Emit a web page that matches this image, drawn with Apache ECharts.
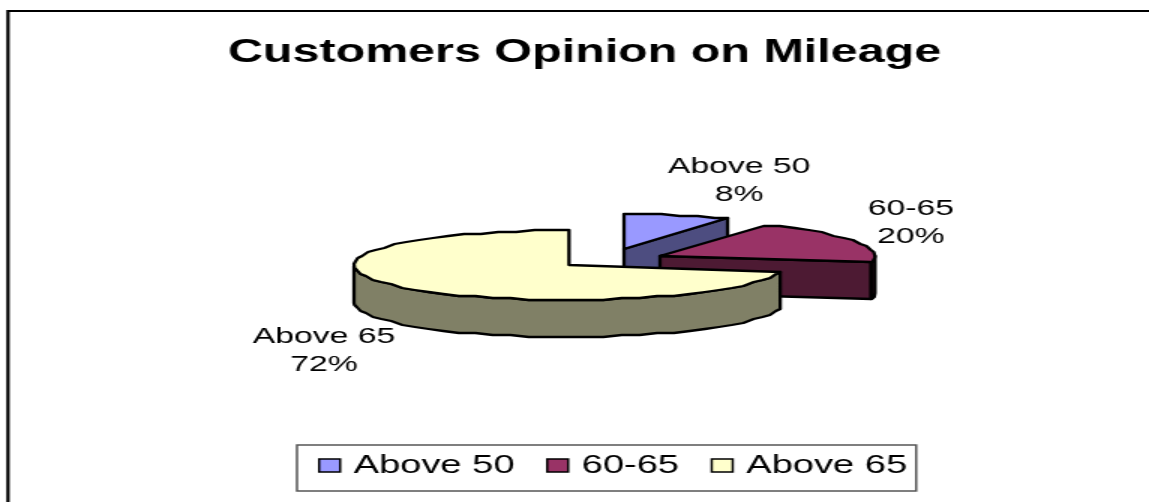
<!DOCTYPE html>
<html>
<head>
<meta charset="utf-8">
<style>
  html, body { margin: 0; padding: 0; background: #fff; overflow: hidden; }
  /* The chart is laid out narrow and widened 1.5x, giving the broad lettering of the sheet */
  #chart { width: 766px; height: 502px; transform: scaleX(1.5); transform-origin: 0 0; }
</style>
<script src="https://cdn.jsdelivr.net/npm/echarts@6/dist/echarts.min.js"></script>
</head>
<body>
<div id="chart"></div>
<script>
const chartTitle = 'Customers Opinion on Mileage';
const categories = ['Above 50', '60-65', 'Above 65'];
const shares = [8, 20, 72];
const topColors = ['#9999FF', '#993366', '#FFFFCC'];
const sideColors = ['#4D4D80', '#4D1A33', '#808066'];

const WIDEN = 1.5;
const FONT = '"Liberation Sans", Arial, sans-serif';

// Disc geometry, in widened page pixels
const RADIUS_X = 215;
const RADIUS_Y = 35;
const DEPTH = 37;
const sliceCentres = [[624, 249], [660, 256], [569, 265]];
const labelCentres = [[739, 181], [911, 223], [324, 351]];

const total = shares.reduce((a, b) => a + b, 0);
const startAngle = i => shares.slice(0, i).reduce((a, b) => a + b, 0) / total * 360;

// Rim heights snap to a coarse grid, which gives the edge its stepped, low-resolution line
function rimPoint(centre, deg, drop) {
  const t = deg * Math.PI / 180;
  const y = centre[1] - RADIUS_Y * Math.cos(t);
  return [
    (centre[0] + RADIUS_X * Math.sin(t)) / WIDEN,
    Math.round(y / 2) * 2 + drop
  ];
}

function rimArc(centre, from, to, drop) {
  const pts = [];
  const step = 5;
  for (let a = from; a < to - 0.01; a += step) pts.push(rimPoint(centre, a, drop));
  pts.push(rimPoint(centre, to, drop));
  return pts;
}

const outline = { stroke: '#000', lineWidth: 2.3, lineJoin: 'round' };

function polygon(points, fill) {
  return { type: 'polygon', shape: { points }, style: Object.assign({ fill }, outline) };
}

function makeRenderItem(i) {
  return function () {
    const centre = sliceCentres[i];
    const a0 = startAngle(i);
    const a1 = a0 + shares[i] / total * 360;
    const apex = [centre[0] / WIDEN, centre[1]];
    const children = [];

    // Cut faces that turn toward the viewer
    const facing = (deg) => Math.cos(deg * Math.PI / 180) < -1e-6;
    [[a0, a0 - 90], [a1, a1 + 90]].forEach(([edge, normal]) => {
      if (!facing(normal)) return;
      const r0 = rimPoint(centre, edge, 0);
      children.push(polygon([apex, r0, [r0[0], r0[1] + DEPTH], [apex[0], apex[1] + DEPTH]], sideColors[i]));
    });

    // Outer wall, only along the near half of the rim
    const w0 = Math.max(a0, 90);
    const w1 = Math.min(a1, 270);
    if (w1 > w0) {
      const upper = rimArc(centre, w0, w1, 0);
      const lower = rimArc(centre, w0, w1, DEPTH).reverse();
      children.push(polygon(upper.concat(lower), sideColors[i]));
    }

    // Top face
    children.push(polygon([apex].concat(rimArc(centre, a0, a1, 0)), topColors[i]));

    // Category and percentage
    children.push({
      type: 'text',
      style: {
        text: categories[i] + '\n' + Math.round(shares[i] / total * 100) + '%',
        x: labelCentres[i][0] / WIDEN,
        y: labelCentres[i][1],
        align: 'center',
        verticalAlign: 'middle',
        fill: '#000',
        font: '22.5px ' + FONT,
        lineHeight: 28
      }
    });
    return { type: 'group', children };
  };
}

const chart = echarts.init(document.getElementById('chart'), null, { renderer: 'canvas' });
chart.setOption({
  animation: false,
  backgroundColor: '#fff',
  title: {
    text: chartTitle,
    left: 577 / WIDEN,
    top: 32,
    textAlign: 'center',
    textStyle: { fontFamily: FONT, fontWeight: 'bold', fontSize: 32.3, color: '#000' }
  },
  legend: {
    left: 297 / WIDEN,
    top: 445,
    padding: [8, 6, 13, 14],
    itemGap: 21,
    itemWidth: 14,
    itemHeight: 13,
    icon: 'rect',
    borderColor: '#555',
    borderWidth: 1.5,
    backgroundColor: '#fff',
    selectedMode: false,
    itemStyle: { borderColor: '#000', borderWidth: 1.5 },
    textStyle: { fontFamily: FONT, fontSize: 25.4, color: '#000', padding: [0, 0, 0, 4] },
    data: categories
  },
  graphic: [{
    // Sheet frame: its right and bottom sides run off the page
    type: 'rect',
    shape: { x: 8 / WIDEN, y: 11, width: 1000, height: 900 },
    style: { fill: 'none', stroke: '#000', lineWidth: 2.2 },
    silent: true
  }],
  series: categories.map((name, i) => ({
    type: 'custom',
    name,
    coordinateSystem: 'none',
    silent: true,
    itemStyle: { color: topColors[i] },
    renderItem: makeRenderItem(i),
    data: [[shares[i]]]
  }))
});
</script>
</body>
</html>
